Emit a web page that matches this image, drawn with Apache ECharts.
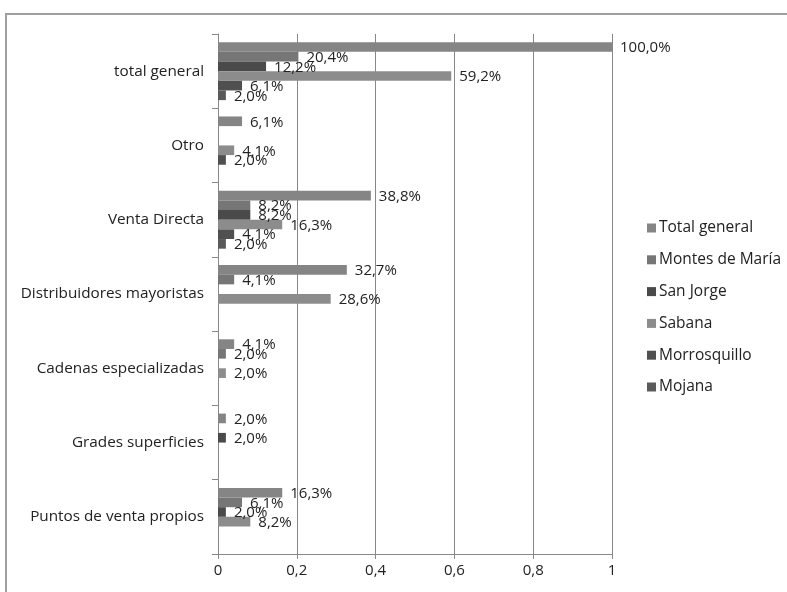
<!DOCTYPE html>
<html>
<head>
<meta charset="utf-8">
<script src="https://cdn.jsdelivr.net/npm/echarts@6/dist/echarts.min.js"></script>
<style>
html,body{margin:0;padding:0;background:#fff;}
#frame{position:absolute;left:5px;top:13px;width:800px;height:600px;border:2px solid #a0a0a0;box-sizing:border-box;}
#chart{position:absolute;left:0;top:0;width:787px;height:592px;}
</style>
</head>
<body>
<div id="frame"></div>
<div id="chart"></div>
<script>
// Categories top to bottom
const categories = ['total general','Otro','Venta Directa','Distribuidores mayoristas','Cadenas especializadas','Grades superficies','Puntos de venta propios'];
const seriesNames = ['Total general','Montes de María','San Jorge','Sabana','Morrosquillo','Mojana'];
const totalGeneral  = [1.000, 0.061, 0.388, 0.327, 0.041, 0.020, 0.163];
const montesDeMaria = [0.204, 0,     0.082, 0.041, 0.020, 0,     0.061];
const sanJorge      = [0.122, 0,     0.082, 0,     0,     0.020, 0.020];
const sabana        = [0.592, 0.041, 0.163, 0.286, 0.020, 0,     0.082];
const morrosquillo  = [0.061, 0.020, 0.041, 0,     0,     0,     0];
const mojana        = [0.020, 0,     0.020, 0,     0,     0,     0];
const xTicks = [0, 0.2, 0.4, 0.6, 0.8, 1];

const seriesData = [totalGeneral, montesDeMaria, sanJorge, sabana, morrosquillo, mojana];
const colors = ['#858585','#767676','#4a4a4a','#8c8c8c','#505050','#5a5a5a'];
const font = '"Open Sans", "Noto Sans", sans-serif';

const chart = echarts.init(document.getElementById('chart'), null, {renderer:'canvas'});
chart.setOption({
  animation:false,
  backgroundColor:'transparent',
  textStyle:{fontFamily:font},
  grid:{left:218, top:34, width:394, height:520, containLabel:false},
  legend:{
    orient:'vertical', left:642, top:214, itemGap:13.8, itemWidth:9, itemHeight:9,
    icon:'rect',
    textStyle:{fontFamily:font, fontSize:15.5, color:'#222', padding:[0,0,0,-2], lineHeight:18},
    data:seriesNames
  },
  xAxis:{
    type:'value', min:0, max:1, interval:0.2,
    axisLine:{show:true, lineStyle:{color:'#888', width:1}},
    axisTick:{show:true, length:5, lineStyle:{color:'#888'}},
    splitLine:{show:true, lineStyle:{color:'#888', width:1}},
    axisLabel:{fontFamily:font, fontSize:15, color:'#222', margin:9,
      formatter:function(v){ const s = xTicks.find(t=>Math.abs(t-v)<1e-9); return (s===undefined?v:s).toString().replace('.',','); }}
  },
  yAxis:{
    type:'category', inverse:true, data:categories,
    axisLine:{show:true, lineStyle:{color:'#888', width:1}},
    axisTick:{show:true, length:6, lineStyle:{color:'#888'}},
    axisLabel:{fontFamily:font, fontSize:15.3, color:'#222', margin:14}
  },
  series: seriesNames.map((n,i)=>({
    name:n, type:'bar', data:seriesData[i],
    barCategoryGap:'22%', barGap:'0%',
    itemStyle:{color:colors[i]},
    label:{
      show:true, position:'right', distance:8, offset:[0,1],
      fontFamily:font, fontSize:15, color:'#222',
      formatter:function(p){ return p.value>0 ? (p.value*100).toFixed(1).replace('.',',')+'%' : ''; }
    }
  }))
});
</script>
</body>
</html>
